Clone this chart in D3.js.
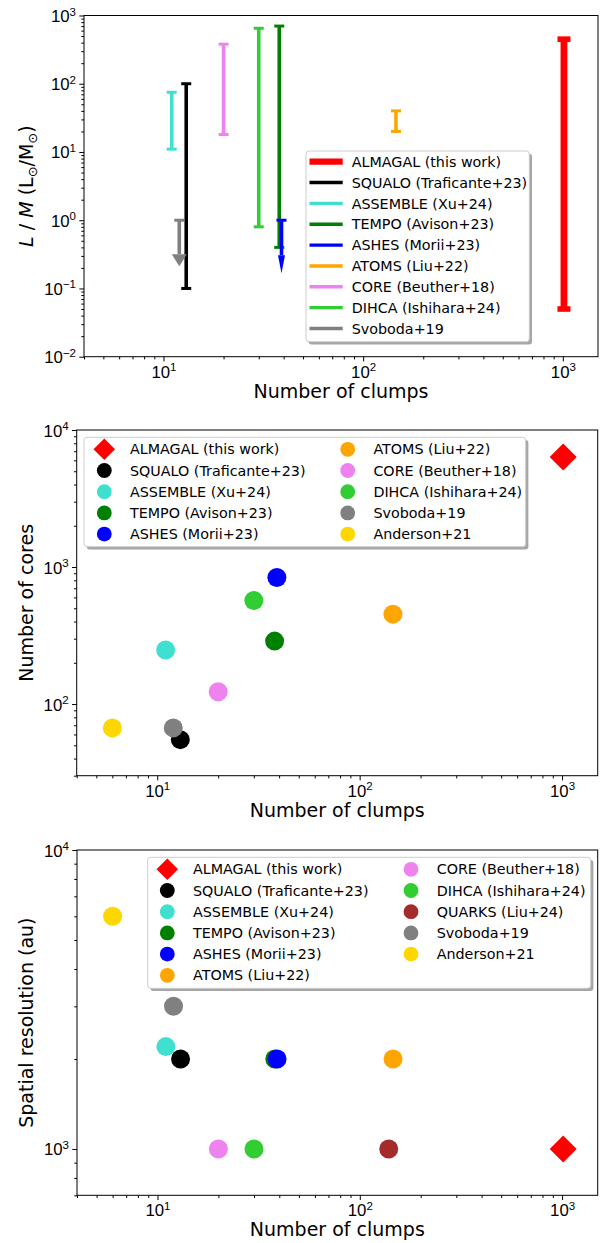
<!DOCTYPE html>
<html>
<head>
<meta charset="utf-8">
<script src="https://cdn.jsdelivr.net/npm/d3@7"></script>
<style>
  html, body { margin: 0; padding: 0; background: #fff; }
  svg { display: block; font-family: "DejaVu Sans", sans-serif; }
</style>
</head>
<body>
<svg id="fig" width="606" height="1243"></svg>
<script>
// ---- Survey data (plotting and legend order) ----
const surveys = [
  "ALMAGAL (this work)", "SQUALO (Traficante+23)", "ASSEMBLE (Xu+24)",
  "TEMPO (Avison+23)", "ASHES (Morii+23)", "ATOMS (Liu+22)",
  "CORE (Beuther+18)", "DIHCA (Ishihara+24)", "QUARKS (Liu+24)",
  "Svoboda+19", "Anderson+21"
];
const clumps        = [1013, 13, 11, 38, 39, 146, 20, 30, 139, 12, 6];
// L/M range (Lsun/Msun); null where not available
const lmMin         = [0.05, 0.1, 11, 0.4, null, 20, 18, 0.8, null, null, null];
const lmMax         = [450, 100, 75, 700, 1, 40, 380, 650, null, 1, null];
const lmUpperLimit  = [false, false, false, false, true, false, false, false, false, true, false];
const cores         = [6348, 55, 248, 288, 839, 453, 123, 570, null, 67, 67];
const resolutionAu  = [1000, 2000, 2200, 2000, 2000, 2000, 1000, 1000, 1000, 3000, 6000];

// ---- Tick labels ----
const xTickValues = [10, 100, 1000];
const xTickExp = ["1", "2", "3"];
const lmTickValues = [0.01, 0.1, 1, 10, 100, 1000];
const lmTickExp = ["\u22122", "\u22121", "0", "1", "2", "3"];
const coreTickValues = [100, 1000, 10000];
const coreTickExp = ["2", "3", "4"];
const resTickValues = [1000, 10000];
const resTickExp = ["3", "4"];

// ---- Styles ----
const colors = ["red", "black", "turquoise", "green", "blue", "orange",
                "violet", "limegreen", "brown", "gray", "gold"];
const FONT_TICK = 16.8, FONT_SUP = 11.5, FONT_LABEL = 19, FONT_LEG = 14.3;
const MAJOR = 4.7, MINOR = 2.7;

const svg = d3.select("#fig");
svg.append("rect").attr("width", 606).attr("height", 1243).attr("fill", "#fff");

function minorValues(domain) {
  const out = [];
  const lo = Math.floor(Math.log10(domain[0])), hi = Math.ceil(Math.log10(domain[1]));
  for (let e = lo; e <= hi; e++) {
    for (let m = 2; m <= 9; m++) {
      const v = m * Math.pow(10, e);
      if (v >= domain[0] * 0.9999 && v <= domain[1] * 1.0001) out.push(v);
    }
  }
  return out;
}

function powLabel(sel, exp) {
  sel.append("tspan").text("10");
  sel.append("tspan").attr("font-size", FONT_SUP).attr("dy", -6.5).text(exp);
}

function setupPanel(box, yDomain, yTicks, yExp) {
  const x = d3.scaleLog().domain([4, 1500]).range([box.left, box.right]);
  const y = d3.scaleLog().domain(yDomain).range([box.bottom, box.top]);
  const g = svg.append("g");

  // minor ticks
  g.append("g").attr("transform", `translate(0,${box.bottom})`)
    .call(d3.axisBottom(x).tickValues(minorValues(x.domain())).tickSize(MINOR).tickFormat(() => ""))
    .call(a => a.select(".domain").remove());
  g.append("g").attr("transform", `translate(${box.left},0)`)
    .call(d3.axisLeft(y).tickValues(minorValues(y.domain())).tickSize(MINOR).tickFormat(() => ""))
    .call(a => a.select(".domain").remove());

  // major ticks with 10^n labels
  const xa = g.append("g").attr("transform", `translate(0,${box.bottom})`)
    .call(d3.axisBottom(x).tickValues(xTickValues).tickSize(MAJOR).tickFormat(() => ""))
    .call(a => a.select(".domain").remove());
  xa.selectAll(".tick").each(function (d, i) {
    const t = d3.select(this).append("text")
      .attr("y", 21).attr("text-anchor", "middle")
      .attr("font-size", FONT_TICK).attr("fill", "#000");
    powLabel(t, xTickExp[i]);
  });
  const ya = g.append("g").attr("transform", `translate(${box.left},0)`)
    .call(d3.axisLeft(y).tickValues(yTicks).tickSize(MAJOR).tickFormat(() => ""))
    .call(a => a.select(".domain").remove());
  ya.selectAll(".tick").each(function (d, i) {
    const t = d3.select(this).append("text")
      .attr("x", -8).attr("y", 6).attr("text-anchor", "end")
      .attr("font-size", FONT_TICK).attr("fill", "#000");
    powLabel(t, yExp[i]);
  });
  g.selectAll(".tick line").attr("stroke", "#000").attr("stroke-width", 1);

  // frame
  g.append("rect")
    .attr("x", box.left).attr("y", box.top)
    .attr("width", box.right - box.left).attr("height", box.bottom - box.top)
    .attr("fill", "none").attr("stroke", "#000").attr("stroke-width", 1);

  // x label
  g.append("text")
    .attr("x", (box.left + box.right) / 2).attr("y", box.bottom + 41)
    .attr("text-anchor", "middle").attr("font-size", FONT_LABEL)
    .text("Number of clumps");

  const plot = svg.append("g");
  return { x, y, g, plot };
}

function yLabel(g, xPos, box) {
  return g.append("text")
    .attr("transform", `translate(${xPos},${(box.top + box.bottom) / 2}) rotate(-90)`)
    .attr("text-anchor", "middle").attr("font-size", FONT_LABEL);
}

function legendFrame(b) {
  svg.append("rect")
    .attr("x", b.x0 + 2.7).attr("y", b.y0 + 2.7)
    .attr("width", b.x1 - b.x0).attr("height", b.y1 - b.y0)
    .attr("rx", 3).attr("fill", "#4d4d4d").attr("opacity", 0.5);
  svg.append("rect")
    .attr("x", b.x0).attr("y", b.y0)
    .attr("width", b.x1 - b.x0).attr("height", b.y1 - b.y0)
    .attr("rx", 3).attr("fill", "#fff").attr("stroke", "#cccccc").attr("stroke-width", 1);
}

function diamondPath(cx, cy, h) {
  const p = d3.path();
  p.moveTo(cx, cy - h); p.lineTo(cx + h, cy); p.lineTo(cx, cy + h); p.lineTo(cx - h, cy); p.closePath();
  return p.toString();
}

function drawMarker(parent, i, cx, cy, rCircle, hDiamond) {
  if (i === 0) {
    parent.append("path").attr("d", diamondPath(cx, cy, hDiamond)).attr("fill", colors[i]);
  } else {
    parent.append("circle").attr("cx", cx).attr("cy", cy).attr("r", rCircle).attr("fill", colors[i]);
  }
}

// ================= Panel 1: L/M ranges =================
{
  const box = { left: 84, right: 598, top: 15.5, bottom: 356.7 };
  const { x, y, g, plot } = setupPanel(box, [0.01, 1000], lmTickValues, lmTickExp);
  const lab = yLabel(g, 33, box);
  lab.append("tspan").attr("font-style", "italic").text("L");
  lab.append("tspan").text(" / ");
  lab.append("tspan").attr("font-style", "italic").text("M");
  lab.append("tspan").text(" (L");
  lab.append("tspan").attr("font-size", 13).attr("dy", 4).text("\u2299");
  lab.append("tspan").attr("dy", -4).text("/M");
  lab.append("tspan").attr("font-size", 13).attr("dy", 4).text("\u2299");
  lab.append("tspan").attr("dy", -4).text(")");

  // bar widths / caps / arrow heads (px)
  const barStyle = i => i === 0
    ? { lw: 6.8, capW: 13, capT: 5.6 }
    : { lw: 3.6, capW: 10, capT: 3 };
  const arrowStyle = { 4: { shaft: 35, headLen: 18, headW: 7 }, 9: { shaft: 34, headLen: 12, headW: 15 } };

  surveys.forEach((name, i) => {
    if (lmMax[i] == null) return;
    const cx = x(clumps[i]);
    const s = barStyle(i);
    const top = y(lmMax[i]);
    if (!lmUpperLimit[i]) {
      const bot = y(lmMin[i]);
      plot.append("line").attr("x1", cx).attr("x2", cx).attr("y1", top).attr("y2", bot)
        .attr("stroke", colors[i]).attr("stroke-width", s.lw);
      [top, bot].forEach(cy => plot.append("line")
        .attr("x1", cx - s.capW / 2).attr("x2", cx + s.capW / 2).attr("y1", cy).attr("y2", cy)
        .attr("stroke", colors[i]).attr("stroke-width", s.capT));
    } else {
      const a = arrowStyle[i];
      const shaftEnd = top + a.shaft;
      plot.append("line").attr("x1", cx).attr("x2", cx).attr("y1", top).attr("y2", shaftEnd)
        .attr("stroke", colors[i]).attr("stroke-width", s.lw);
      plot.append("line")
        .attr("x1", cx - s.capW / 2).attr("x2", cx + s.capW / 2).attr("y1", top).attr("y2", top)
        .attr("stroke", colors[i]).attr("stroke-width", s.capT);
      const p = d3.path();
      p.moveTo(cx - a.headW / 2, shaftEnd); p.lineTo(cx + a.headW / 2, shaftEnd);
      p.lineTo(cx, shaftEnd + a.headLen); p.closePath();
      plot.append("path").attr("d", p.toString()).attr("fill", colors[i]);
    }
  });

  // legend
  const leg = { x0: 306, x1: 529.3, y0: 151, y1: 341.7 };
  legendFrame(leg);
  const entries = surveys.map((n, i) => i).filter(i => lmMax[i] != null);
  entries.forEach((i, k) => {
    const cy = 161.7 + k * 20.85;
    svg.append("line").attr("x1", 309.5).attr("x2", 342.7).attr("y1", cy).attr("y2", cy)
      .attr("stroke", colors[i]).attr("stroke-width", i === 0 ? 6.2 : 3.4);
    svg.append("text").attr("x", 351.7).attr("y", cy).attr("dy", "0.36em")
      .attr("font-size", FONT_LEG).text(surveys[i]);
  });
}

// ================= Panel 2: number of cores =================
{
  const box = { left: 76.7, right: 597.7, top: 430, bottom: 775.7 };
  const { x, y, g, plot } = setupPanel(box, [30, 10000], coreTickValues, coreTickExp);
  yLabel(g, 32.5, box).text("Number of cores");

  surveys.forEach((name, i) => {
    if (cores[i] == null) return;
    drawMarker(plot, i, x(clumps[i]), y(cores[i]), 9.5, 13.5);
  });

  const leg = { x0: 84, x1: 525.7, y0: 437.3, y1: 546.7 };
  legendFrame(leg);
  const entries = surveys.map((n, i) => i).filter(i => cores[i] != null);
  const perCol = Math.ceil(entries.length / 2);
  entries.forEach((i, k) => {
    const col = Math.floor(k / perCol), row = k % perCol;
    const cy = 449.3 + row * 21.2;
    const mx = col === 0 ? 104.3 : 347.7;
    drawMarker(svg, i, mx, cy, 7.4, 10.8);
    svg.append("text").attr("x", mx + 25.7).attr("y", cy).attr("dy", "0.36em")
      .attr("font-size", FONT_LEG).text(surveys[i]);
  });
}

// ================= Panel 3: spatial resolution =================
{
  const box = { left: 77, right: 597.7, top: 850, bottom: 1195.3 };
  const { x, y, g, plot } = setupPanel(box, [700, 10000], resTickValues, resTickExp);
  yLabel(g, 32.5, box).text("Spatial resolution (au)");

  surveys.forEach((name, i) => {
    if (resolutionAu[i] == null) return;
    drawMarker(plot, i, x(clumps[i]), y(resolutionAu[i]), 9.5, 13.5);
  });

  const leg = { x0: 147.7, x1: 590.7, y0: 857.3, y1: 988.3 };
  legendFrame(leg);
  const entries = surveys.map((n, i) => i).filter(i => resolutionAu[i] != null);
  const perCol = Math.ceil(entries.length / 2);
  entries.forEach((i, k) => {
    const col = Math.floor(k / perCol), row = k % perCol;
    const cy = 869.3 + row * 21.2;
    const mx = col === 0 ? 167.3 : 411;
    drawMarker(svg, i, mx, cy, 7.4, 10.8);
    svg.append("text").attr("x", mx + 25.7).attr("y", cy).attr("dy", "0.36em")
      .attr("font-size", FONT_LEG).text(surveys[i]);
  });
}
</script>
</body>
</html>
